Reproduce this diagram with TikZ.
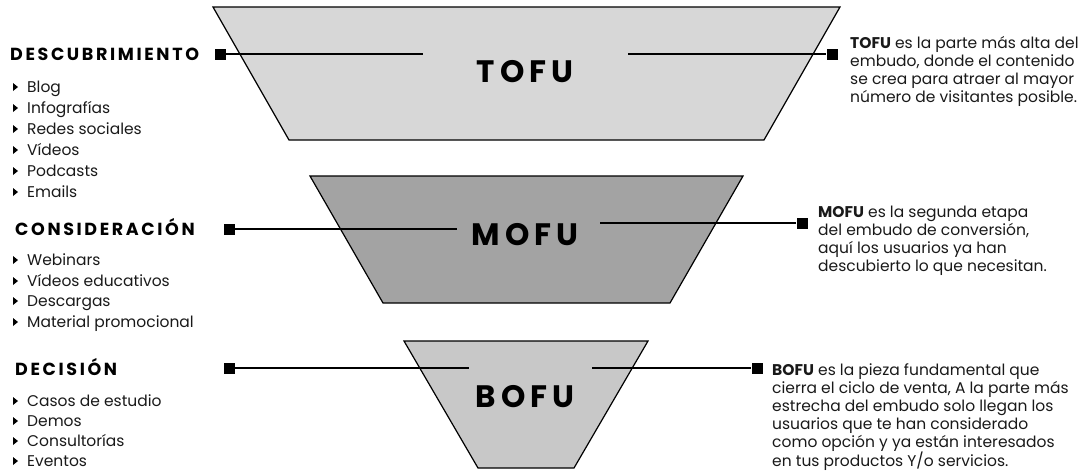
\documentclass[tikz,border=0pt]{standalone}
\usepackage{fontspec}
\setmainfont{Poppins}
\newfontfamily\headfont[LetterSpace=15]{Poppins}
\newfontfamily\stagefont[LetterSpace=16]{Poppins}
\definecolor{tofuc}{RGB}{215,215,215}
\definecolor{mofuc}{RGB}{163,163,163}
\definecolor{bofuc}{RGB}{200,200,200}
\newcommand\paralines[1]{\vtop{\baselineskip=18.2pt\lineskiplimit=-10pt #1}}
\begin{document}
\begin{tikzpicture}[x=1pt,y=-1pt,
  funnel/.style={draw=black,line width=1.2pt},
  stage/.style={font=\stagefont\fontsize{31}{31}\selectfont\bfseries,anchor=base,inner sep=0pt},
  head/.style={font=\headfont\fontsize{17.5}{17.5}\selectfont\bfseries,anchor=base west,inner sep=0pt},
  item/.style={font=\fontsize{15.5}{15.5}\selectfont,anchor=base west,inner sep=0pt,text=black!90},
  desc/.style={font=\fontsize{15.5}{18.2}\selectfont,anchor=base west,inner sep=0pt,text=black!90},
  sq/.style={fill=black,minimum size=11pt,inner sep=0pt},
  conn/.style={line width=1.3pt}]
\useasboundingbox (0,0) rectangle (1084,471);
% funnel sections
\draw[funnel,fill=tofuc] (213,7) -- (840,7) -- (764,140) -- (289,140) -- cycle;
\draw[funnel,fill=mofuc] (310,176) -- (743,176) -- (670,303) -- (383,303) -- cycle;
\draw[funnel,fill=bofuc] (404,341) -- (648,341) -- (574,468) -- (478,468) -- cycle;
% stage labels
\node[stage] (tofu) at (525,82) {TOFU};
\node[stage] (mofu) at (525,245) {MOFU};
\node[stage] (bofu) at (525,407) {BOFU};
% squares and connectors
\node[sq] (sqtl) at (220,54) {};
\node[sq] (sqtr) at (832,54) {};
\coordinate (ctl) at (423,54);
\coordinate (ctr) at (628,54);
\draw[conn] (sqtl) -- (ctl);
\draw[conn] (ctr) -- (sqtr);
\node[sq] (sqml) at (229,229) {};
\node[sq] (sqmr) at (802,223) {};
\coordinate (cml) at (457,229);
\coordinate (cmr) at (600,223);
\draw[conn] (sqml) -- (cml);
\draw[conn] (cmr) -- (sqmr);
\node[sq] (sqbl) at (229,368) {};
\node[sq] (sqbr) at (757,368) {};
\coordinate (cbl) at (469,368);
\coordinate (cbr) at (592,368);
\draw[conn] (sqbl) -- (cbl);
\draw[conn] (cbr) -- (sqbr);
% headings
\node[head] (h1) at (10,60) {DESCUBRIMIENTO};
\node[head] (h2) at (15,235) {CONSIDERACIÓN};
\node[head] (h3) at (15,375) {DECISIÓN};
% list items
\foreach \t/\b [count=\i] in {Blog/92,Infografías/113,Redes sociales/134,Vídeos/155,Podcasts/176,Emails/197,
  Webinars/265,Vídeos educativos/286,Descargas/306,Material promocional/327,
  Casos de estudio/406,Demos/426,Consultorías/446,Eventos/466}{
  \fill (13,\b-9) -- (18,\b-5) -- (13,\b-1) -- cycle;
  \node[item] (it\i) at (27,\b) {\t};
}
% descriptions
\node[desc] (dt) at (850,48) {\paralines{\hbox{\textbf{TOFU} es la parte más alta del}\hbox{embudo, donde el contenido}\hbox{se crea para atraer al mayor}\hbox{número de visitantes posible.}}};
\node[desc] (dm) at (818,217) {\paralines{\hbox{\textbf{MOFU} es la segunda etapa}\hbox{del embudo de conversión,}\hbox{aquí los usuarios ya han}\hbox{descubierto lo que necesitan.}}};
\node[desc] (db) at (772,375) {\paralines{\hbox{\textbf{BOFU} es la pieza fundamental que}\hbox{cierra el ciclo de venta, A la parte más}\hbox{estrecha del embudo solo llegan los}\hbox{usuarios que te han considerado}\hbox{como opción y ya están interesados}\hbox{en tus productos Y/o servicios.}}};
\end{tikzpicture}
\end{document}
